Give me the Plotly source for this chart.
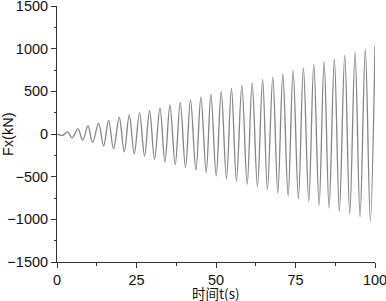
import plotly.graph_objects as go

# Extrema (time in s, force in kN)
t_start = [0.0]
v_start = [0]
t_peak = [3.34, 6.61, 9.75, 13.08, 16.22, 19.58, 22.72, 25.96, 29.10, 32.37,
          35.51, 38.75, 41.98, 45.25, 48.39, 51.63, 54.86, 58.13, 61.37, 64.66,
          67.87, 71.01, 74.25, 77.48, 80.75, 83.99, 87.22, 90.49, 93.73, 96.96]
v_peak = [25, 60, 95, 124, 159, 194, 224, 248, 276, 307,
          342, 370, 400, 436, 467, 499, 534, 569, 600, 640,
          670, 706, 741, 776, 816, 846, 882, 921, 957, 995]
t_trough = [1.77, 4.72, 8.05, 11.19, 14.65, 17.79, 21.15, 24.29, 27.53, 30.67,
            33.94, 37.18, 40.41, 43.68, 46.92, 50.06, 53.29, 56.43, 59.80, 63.03,
            66.17, 69.44, 72.68, 75.91, 79.18, 82.42, 85.56, 88.79, 92.06, 95.30, 98.53]
v_trough = [-17, -45, -72, -99, -139, -174, -210, -232, -260, -295,
            -327, -358, -393, -424, -451, -491, -522, -550, -589, -620,
            -651, -691, -726, -757, -788, -835, -867, -906, -937, -972, -1019]
t_end = [100.0]
v_end = [1031]

x_ticks = [0, 25, 50, 75, 100]
y_ticks = [-1500, -1000, -500, 0, 500, 1000, 1500]
x_title = "时间t(s)"
y_title = "Fx(kN)"

pts = sorted(zip(t_start + t_peak + t_trough + t_end,
                 v_start + v_peak + v_trough + v_end))
t_all = [p[0] for p in pts]
v_all = [p[1] for p in pts]

fig = go.Figure()
fig.add_trace(go.Scatter(
    x=t_all, y=v_all, mode="lines",
    line=dict(color="#858585", width=1.3, shape="spline", smoothing=1.0),
    showlegend=False, hoverinfo="skip", cliponaxis=False))

axis_font = dict(family="Liberation Sans, Arial, sans-serif", size=14.5, color="#111")
fig.update_xaxes(
    range=[0, 100], tickvals=x_ticks, showgrid=False, zeroline=False,
    showline=True, linecolor="#333", linewidth=1, automargin=False,
    ticks="outside", ticklen=5, tickcolor="#333", ticklabeloverflow="allow",
    minor=dict(dtick=12.5, tick0=0, ticks="outside", ticklen=2.5, tickcolor="#333", showgrid=False),
    tickfont=axis_font,
)
fig.update_yaxes(
    range=[-1500, 1500], tickvals=y_ticks, showgrid=False, zeroline=False,
    showline=True, linecolor="#333", linewidth=1, automargin=False,
    ticks="outside", ticklen=5, tickcolor="#333", ticklabeloverflow="allow",
    minor=dict(dtick=250, tick0=0, ticks="outside", ticklen=2.5, tickcolor="#333", showgrid=False),
    tickfont=axis_font,
)
fig.add_annotation(
    text=x_title, xref="paper", yref="paper", x=0.5, y=-0.122,
    xanchor="center", yanchor="middle", showarrow=False,
    font=dict(family="Noto Sans CJK SC, Liberation Sans, sans-serif", size=13.5, color="#111"))
fig.add_annotation(
    text=y_title, xref="paper", yref="paper", x=-0.154, y=0.5, textangle=-90,
    xanchor="center", yanchor="middle", showarrow=False,
    font=dict(family="Liberation Sans, Arial, sans-serif", size=14.5, color="#111"))
fig.update_layout(
    width=386, height=301,
    margin=dict(l=57, r=11, t=6, b=39, autoexpand=False),
    plot_bgcolor="white", paper_bgcolor="white",
)
fig.write_html("out.html", config={"displayModeBar": False},
               post_script="document.body.style.margin='0px';document.body.style.overflow='hidden';")
